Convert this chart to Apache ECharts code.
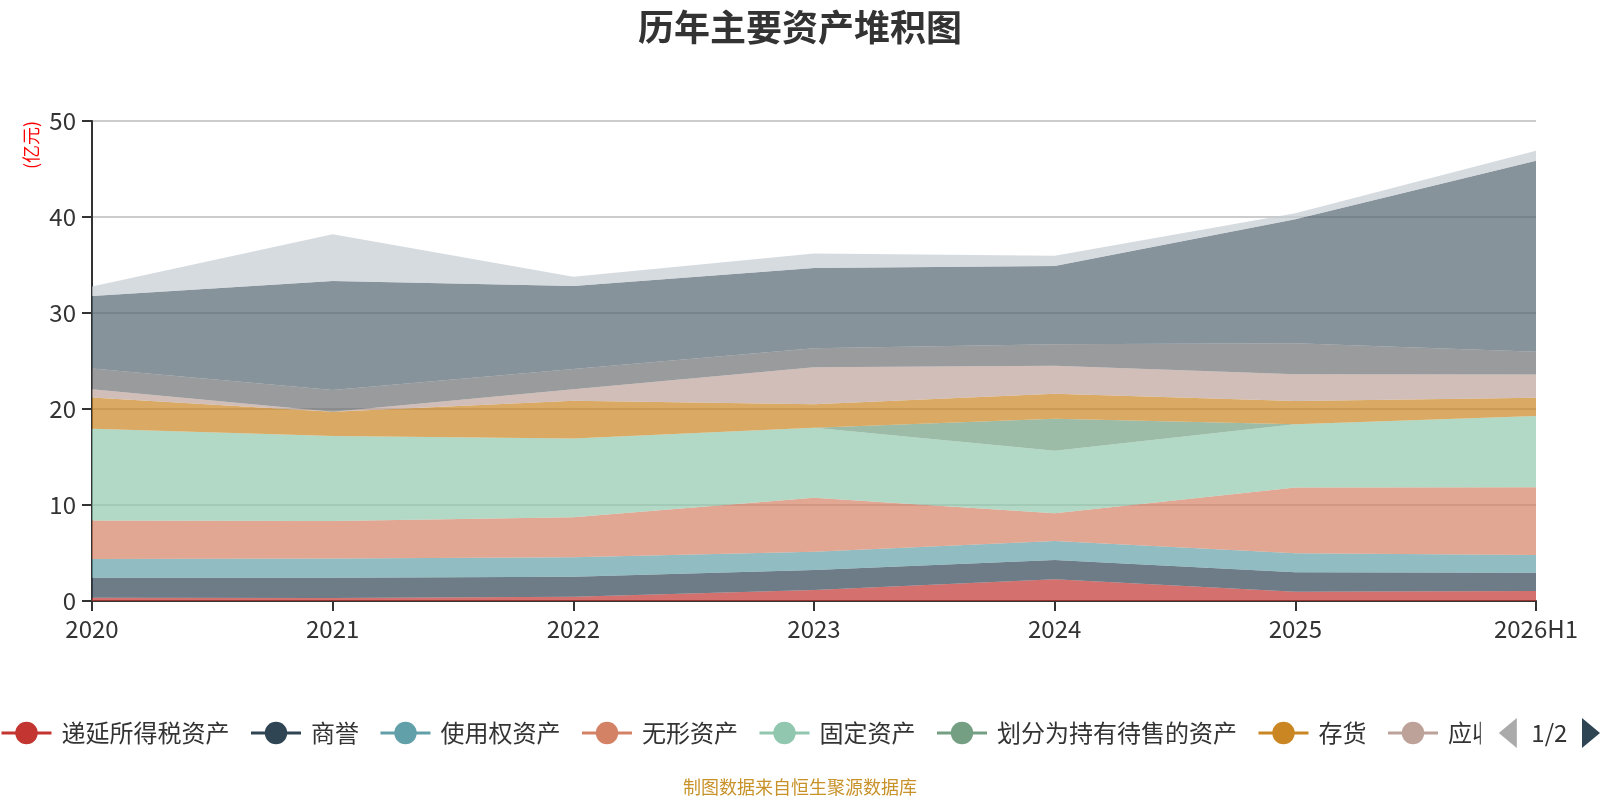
<!DOCTYPE html>
<html>
<head>
<meta charset="utf-8">
<script src="https://cdn.jsdelivr.net/npm/echarts@6/dist/echarts.min.js"></script>
<style>
html,body{margin:0;padding:0;background:#fff;}
#main{width:1600px;height:800px;}
</style>
</head>
<body>
<div id="main"></div>
<script>
const categories = ['2020', '2021', '2022', '2023', '2024', '2025', '2026H1'];
const yTicks = [0, 10, 20, 30, 40, 50];

const s_deferredTax = [0.34, 0.30, 0.45, 1.15, 2.26, 0.97, 1.04];
const s_goodwill = [2.09, 2.13, 2.08, 2.08, 2.01, 2.02, 1.91];
const s_rightOfUse = [1.95, 2.01, 2.02, 1.91, 1.98, 1.98, 1.84];
const s_intangible = [4.00, 3.89, 4.17, 5.62, 2.88, 6.84, 7.05];
const s_fixed = [9.55, 8.87, 8.22, 7.29, 6.53, 6.59, 7.43];
const s_heldForSale = [0, 0, 0, 0, 3.33, 0, 0];
const s_inventory = [3.26, 2.52, 3.92, 2.44, 2.61, 2.43, 1.91];
const s_receivable = [0.87, 0, 1.19, 3.85, 2.91, 2.78, 2.42];
const s_notes = [2.15, 2.26, 2.12, 1.98, 2.23, 3.23, 2.37];
const s_cash = [7.57, 11.35, 8.64, 8.37, 8.16, 12.92, 19.90];
const s_trading = [0.97, 4.87, 0.97, 1.51, 1.07, 0.62, 1.03];

const seriesNames = ['递延所得税资产', '商誉', '使用权资产', '无形资产', '固定资产', '划分为持有待售的资产', '存货', '应收账款', '应收票据', '货币资金', '交易性金融资产'];
const seriesData = [s_deferredTax, s_goodwill, s_rightOfUse, s_intangible, s_fixed, s_heldForSale, s_inventory, s_receivable, s_notes, s_cash, s_trading];
const palette = ['#c23531', '#2f4554', '#61a0a8', '#d48265', '#91c7ae', '#749f83', '#ca8622', '#bda29a', '#6e7074', '#546570', '#c4ccd3'];

const FONT = '"Noto Sans CJK SC", "Noto Sans", sans-serif';

const chart = echarts.init(document.getElementById('main'));
chart.setOption({
  color: palette,
  animation: false,
  textStyle: { fontFamily: FONT },
  title: {
    text: '历年主要资产堆积图',
    left: 'center',
    top: 4,
    textStyle: { fontSize: 36, fontWeight: 'bold', color: '#333', fontFamily: FONT }
  },
  graphic: [
    {
      type: 'text',
      x: 31, y: 145,
      rotation: Math.PI / 2,
      style: { text: '(亿元)', x: 0, y: 0, fill: '#ff0000', fontSize: 18, fontFamily: FONT,
               align: 'center', verticalAlign: 'middle', textAlign: 'center', textVerticalAlign: 'middle' }
    },
    {
      type: 'text',
      left: 'center',
      top: 778,
      style: { text: '制图数据来自恒生聚源数据库', fill: '#c8922a', fontSize: 18, fontFamily: FONT }
    }
  ],
  legend: {
    type: 'scroll',
    left: 0,
    right: 0,
    top: 718,
    padding: 0,
    itemWidth: 50,
    itemHeight: 28,
    itemGap: 20,
    textStyle: { fontSize: 24, color: '#333', fontFamily: FONT, padding: [0, 0, 0, 5] },
    pageIconSize: 30,
    pageIconColor: '#2f4554',
    pageIconInactiveColor: '#aaa',
    pageButtonItemGap: 4,
    pageButtonGap: 18,
    pageTextStyle: { fontSize: 24, color: '#333', fontFamily: FONT },
    lineStyle: { width: 3, opacity: 1 },
    data: seriesNames
  },
  grid: { left: 92, right: 64, top: 121, bottom: 199, containLabel: false },
  xAxis: {
    type: 'category',
    boundaryGap: false,
    data: categories,
    axisLine: { lineStyle: { color: '#333', width: 2 } },
    axisTick: { show: true, length: 10, lineStyle: { color: '#333', width: 2 } },
    axisLabel: { fontSize: 24, color: '#333', margin: 16, fontFamily: FONT },
    splitLine: { show: false }
  },
  yAxis: {
    type: 'value',
    min: yTicks[0],
    max: yTicks[yTicks.length - 1],
    interval: yTicks[1] - yTicks[0],
    axisLine: { show: true, lineStyle: { color: '#333', width: 2 } },
    axisTick: { show: true, length: 10, lineStyle: { color: '#333', width: 2 } },
    axisLabel: { fontSize: 24, color: '#333', margin: 16, fontFamily: FONT },
    splitLine: { show: true, lineStyle: { color: '#ccc', width: 2 } }
  },
  series: seriesNames.map((name, i) => ({
    name: name,
    type: 'line',
    stack: 'total',
    data: seriesData[i],
    symbol: 'none',
    showSymbol: false,
    lineStyle: { width: 0 },
    areaStyle: { opacity: 0.7 },
    emphasis: { disabled: true }
  }))
});
</script>
</body>
</html>
